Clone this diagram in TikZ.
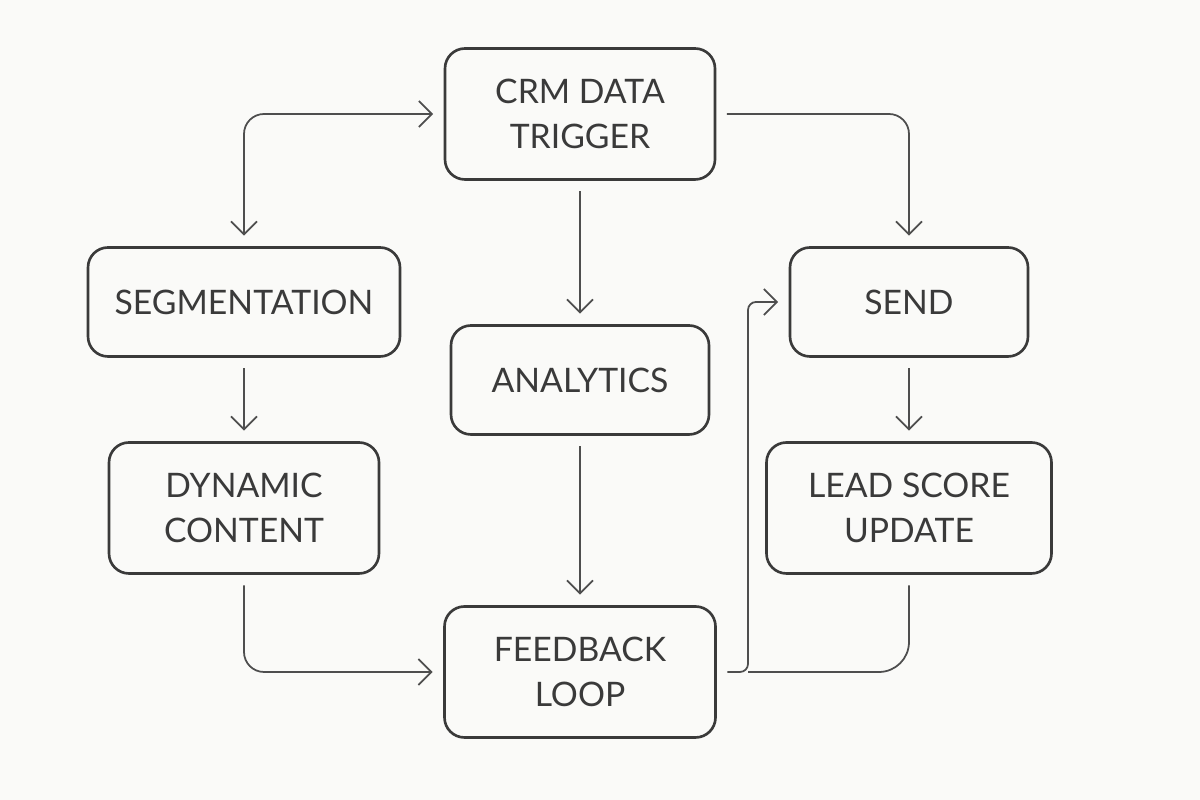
\documentclass[tikz,border=0pt]{standalone}
\usepackage{fontspec}
\setmainfont{Lato}
\usepackage{tikz}
\usetikzlibrary{arrows.meta, positioning}
\definecolor{paper}{HTML}{FAFAF8}
\definecolor{pencil}{HTML}{3A3A3A}

\begin{document}
\begin{tikzpicture}[shorten >=3pt,shorten <=3pt,node distance=2cm,on grid,auto,
    >={Straight Barb[length=1.3mm,width=2.6mm]},
    box/.style={draw=pencil, line width=0.75pt, rounded corners=0.2cm, fill=paper,
        align=center, text=pencil, font=\fontsize{9.6}{12.8}\selectfont,
        minimum height=1.09cm},
    tall/.style={minimum height=1.31cm},
    link/.style={draw=pencil!90, line width=0.5pt, rounded corners=0.2cm}]
        \useasboundingbox[fill=paper] (0,0) rectangle (12,8);

        \node[box, tall, minimum width=2.70cm] (crm)  at (5.80,6.86)                      {CRM DATA\\TRIGGER};
        \node[box, minimum width=3.12cm]       (seg)  [below left=1.88 and 3.36 of crm]   {SEGMENTATION};
        \node[box, tall, minimum width=2.70cm] (dyn)  [below=2.06 of seg]                 {DYNAMIC\\CONTENT};
        \node[box, minimum width=2.58cm]       (ana)  [below=2.66 of crm]                 {ANALYTICS};
        \node[box, tall, minimum width=2.71cm] (fb)   [below=2.92 of ana]                 {FEEDBACK\\LOOP};
        \node[box, minimum width=2.38cm]       (send) [below right=1.88 and 3.29 of crm]  {SEND};
        \node[box, tall, minimum width=2.85cm] (lead) [below=2.06 of send]                {LEAD SCORE\\UPDATE};

        \coordinate (bend) at (7.48,1.28);

        \path[link, ->] (crm) edge (ana)
        (ana) edge (fb)
        (seg) edge (dyn)
        (send) edge (lead);
        \draw[link, <->] (seg.north) |- (crm.west);
        \draw[link, ->] (crm.east) -| (send.north);
        \draw[link, ->] (dyn.south) |- (fb.west);
        \draw[link, ->, rounded corners=0.08cm] (fb.east) -- (bend) |- (send.west);
        \draw[link, rounded corners=0.3cm, shorten >=0pt] (lead.south) |- (bend);
    \end{tikzpicture}
\end{document}
